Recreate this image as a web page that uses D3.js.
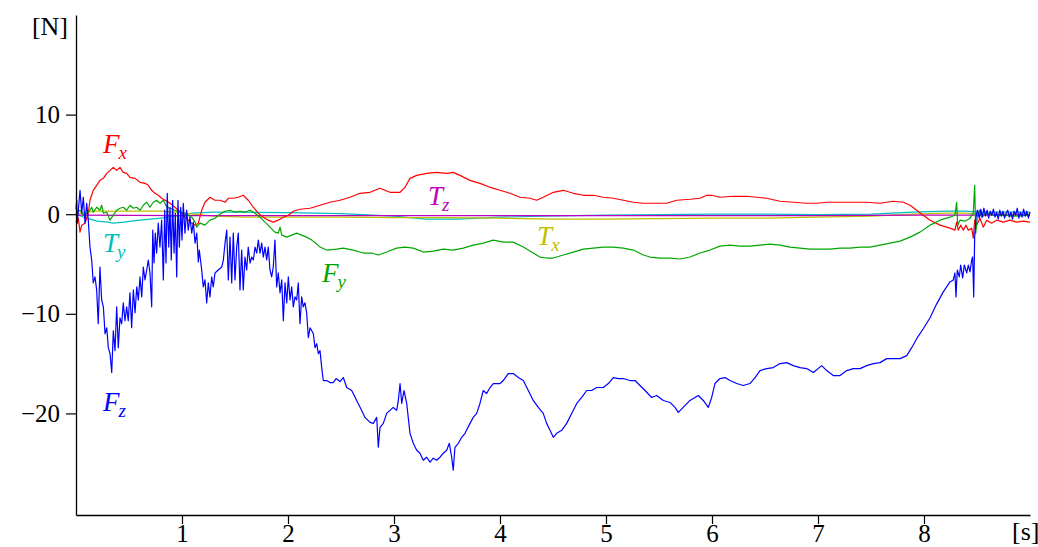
<!DOCTYPE html>
<meta charset="utf-8">
<script src="https://d3js.org/d3.v7.min.js"></script>
<style>
  body { margin: 0; background: white; }
  text { font-family: "Liberation Serif", "Times New Roman", "DejaVu Serif", serif; }
</style>
<div id="chart"></div>
<script>

  var svgWidth = 1038, svgHeight = 547;

  // time axis [s] and force axis [N]
  const xTicks = [1, 2, 3, 4, 5, 6, 7, 8];
  const yTicks = [-20, -10, 0, 10];

  // F_z: [t, value]
  const fz = [
    [0.0, 0.5], [0.007, 1.4], [0.012, -0.9], [0.038, 2.4], [0.054, 0.1], [0.069, 1.7], [0.085, -0.9],
    [0.101, 1.1], [0.116, -0.6], [0.132, -3.3], [0.148, -4.6], [0.163, -6.9], [0.179, -6.3],
    [0.195, -7.6], [0.210, -11.0], [0.226, -5.3], [0.242, -8.6], [0.258, -9.3], [0.274, -12.0],
    [0.290, -11.4], [0.305, -13.4], [0.321, -14.0], [0.337, -15.9], [0.352, -11.7], [0.368, -13.7],
    [0.384, -9.3], [0.399, -13.4], [0.415, -10.4], [0.431, -11.0], [0.446, -8.9], [0.462, -10.7],
    [0.478, -9.3], [0.493, -10.7], [0.509, -7.9], [0.525, -11.4], [0.541, -7.6], [0.557, -9.9],
    [0.573, -7.3], [0.588, -8.6], [0.604, -6.3], [0.620, -8.3], [0.635, -5.3], [0.651, -6.6],
    [0.667, -5.6], [0.682, -4.6], [0.698, -5.9], [0.714, -9.3], [0.724, -1.6], [0.736, -4.9],
    [0.748, -1.9], [0.761, -3.9], [0.776, -0.9], [0.792, -3.3], [0.808, -0.6], [0.824, -6.6],
    [0.837, 0.4], [0.849, -4.9], [0.861, 2.1], [0.875, -3.3], [0.887, 0.7], [0.899, -4.6],
    [0.912, 1.4], [0.925, -3.9], [0.937, 0.1], [0.950, -6.3], [0.962, 1.4], [0.975, -3.3],
    [0.988, 0.7], [1.000, -2.6], [1.012, 1.1], [1.028, -1.9], [1.044, 0.4], [1.059, -1.6],
    [1.075, -0.3], [1.092, -1.9], [1.107, -0.8], [1.123, -2.9], [1.139, -1.9], [1.154, -4.8],
    [1.163, -3.6], [1.186, -5.6], [1.201, -7.3], [1.217, -6.6], [1.233, -8.9], [1.248, -6.9],
    [1.264, -8.3], [1.280, -6.3], [1.295, -7.3], [1.311, -5.9], [1.342, -5.6], [1.375, -5.3],
    [1.390, -4.6], [1.406, -2.9], [1.422, -1.6], [1.437, -6.6], [1.453, -2.3], [1.469, -6.9],
    [1.484, -1.9], [1.500, -6.6], [1.516, -3.3], [1.531, -1.9], [1.547, -7.6], [1.563, -3.6],
    [1.578, -7.6], [1.594, -4.3], [1.610, -5.6], [1.625, -3.3], [1.642, -4.9], [1.658, -4.3],
    [1.673, -4.6], [1.689, -3.3], [1.705, -3.9], [1.720, -2.6], [1.736, -3.9], [1.752, -2.9],
    [1.767, -4.3], [1.783, -3.3], [1.799, -4.6], [1.814, -3.3], [1.830, -5.6], [1.846, -6.3],
    [1.861, -5.3], [1.877, -2.6], [1.893, -7.3], [1.908, -5.9], [1.925, -7.9], [1.941, -6.6],
    [1.956, -10.7], [1.972, -6.9], [1.988, -8.9], [2.003, -6.3], [2.019, -8.6], [2.035, -7.3],
    [2.050, -9.3], [2.066, -8.3], [2.082, -8.6], [2.097, -6.9], [2.113, -11.0], [2.129, -8.3],
    [2.144, -9.3], [2.160, -8.9], [2.176, -9.9], [2.192, -12.4], [2.208, -11.4], [2.224, -11.7],
    [2.239, -12.0], [2.255, -13.4], [2.271, -13.0], [2.286, -14.0], [2.302, -13.7], [2.318, -15.4],
    [2.333, -16.7], [2.365, -16.7], [2.396, -16.9], [2.427, -16.9], [2.453, -16.5], [2.491, -16.8],
    [2.522, -16.4], [2.554, -17.4], [2.601, -17.7], [2.648, -18.7], [2.695, -19.7], [2.726, -20.4],
    [2.774, -20.9], [2.805, -21.0], [2.837, -20.4], [2.852, -23.4], [2.868, -21.4], [2.899, -21.0],
    [2.931, -20.0], [2.962, -19.7], [2.993, -19.4], [3.025, -19.7], [3.041, -18.7], [3.057, -17.0],
    [3.073, -19.0], [3.094, -17.7], [3.120, -19.0], [3.151, -22.0], [3.182, -23.0], [3.214, -23.7],
    [3.245, -24.0], [3.276, -24.7], [3.308, -24.4], [3.340, -24.9], [3.371, -24.5], [3.403, -24.7],
    [3.434, -24.4], [3.465, -24.0], [3.497, -23.7], [3.522, -23.0], [3.544, -24.4], [3.559, -25.7],
    [3.575, -23.4], [3.607, -23.0], [3.639, -22.4], [3.670, -22.0], [3.717, -21.0], [3.748, -20.4],
    [3.780, -20.0], [3.811, -19.0], [3.842, -17.7], [3.874, -18.0], [3.906, -17.4], [3.937, -17.0],
    [4.000, -17.0], [4.031, -16.7], [4.078, -16.0], [4.125, -16.0], [4.173, -16.4], [4.220, -16.7],
    [4.267, -17.7], [4.314, -18.7], [4.361, -19.4], [4.408, -20.0], [4.440, -21.0], [4.472, -21.7],
    [4.503, -22.4], [4.535, -22.0], [4.582, -21.7], [4.629, -21.0], [4.676, -20.0], [4.724, -19.0],
    [4.771, -18.4], [4.818, -17.7], [4.865, -17.7], [4.912, -17.4], [4.975, -17.4], [5.022, -17.0],
    [5.069, -16.4], [5.116, -16.5], [5.163, -16.5], [5.226, -16.7], [5.274, -16.7], [5.321, -17.2],
    [5.368, -17.7], [5.431, -18.4], [5.478, -18.2], [5.541, -18.7], [5.604, -18.9], [5.651, -19.4],
    [5.682, -19.9], [5.729, -19.4], [5.792, -18.7], [5.840, -18.4], [5.871, -18.2], [5.918, -18.7],
    [5.965, -19.4], [5.997, -18.4], [6.028, -17.0], [6.075, -16.5], [6.123, -16.4], [6.170, -16.7],
    [6.233, -17.0], [6.295, -17.2], [6.358, -17.0], [6.406, -16.4], [6.453, -15.7], [6.516, -15.5],
    [6.578, -15.4], [6.642, -15.0], [6.705, -14.9], [6.767, -15.2], [6.830, -15.4], [6.893, -15.5],
    [6.956, -15.9], [7.035, -15.2], [7.082, -15.7], [7.144, -16.2], [7.208, -16.2], [7.271, -15.7],
    [7.333, -15.5], [7.396, -15.5], [7.459, -15.2], [7.522, -15.0], [7.585, -14.9], [7.648, -14.5],
    [7.710, -14.5], [7.774, -14.5], [7.837, -14.2], [7.884, -13.4], [7.931, -12.5], [7.993, -11.5],
    [8.057, -10.4], [8.120, -9.0], [8.182, -7.8], [8.245, -6.8], [8.276, -6.6], [8.292, -5.9],
    [8.302, -8.3], [8.314, -5.6], [8.333, -6.3], [8.346, -5.1], [8.365, -6.4], [8.380, -5.1],
    [8.403, -5.9], [8.418, -5.1], [8.434, -5.8], [8.450, -4.6], [8.459, -4.3], [8.469, -8.3],
    [8.478, -2.3], [8.491, -0.3], [8.503, 0.4], [8.522, -0.4], [8.535, 0.5], [8.550, -0.3],
    [8.565, 0.6], [8.580, -0.2], [8.595, 0.4], [8.610, -0.4], [8.625, 0.3], [8.640, -0.1],
    [8.655, 0.5], [8.670, -0.3], [8.685, 0.2], [8.700, -0.5], [8.715, 0.4], [8.730, -0.2],
    [8.745, 0.3], [8.760, -0.4], [8.775, 0.1], [8.790, 0.4], [8.805, -0.3], [8.820, 0.2],
    [8.835, -0.5], [8.850, 0.3], [8.865, -0.1], [8.880, 0.6], [8.895, -0.4], [8.910, 0.2],
    [8.925, -0.3], [8.940, 0.5], [8.955, -0.2], [8.970, 0.3], [8.985, -0.4], [9.000, 0.2]
  ];

  const fx = [
    [0.0, -0.8], [0.022, -0.4], [0.038, -1.8], [0.054, -1.1], [0.085, -0.9], [0.116, 0.1],
    [0.132, 1.4], [0.163, 2.4], [0.195, 2.9], [0.226, 3.4], [0.258, 3.6], [0.290, 4.1],
    [0.321, 4.4], [0.352, 4.7], [0.384, 4.4], [0.415, 4.7], [0.446, 4.2], [0.478, 4.1],
    [0.509, 3.7], [0.557, 3.6], [0.604, 3.2], [0.651, 3.1], [0.682, 2.9], [0.714, 2.4],
    [0.745, 2.1], [0.776, 1.9], [0.808, 1.6], [0.840, 1.4], [0.887, 1.1], [0.934, 0.7],
    [0.965, 0.4], [0.997, 0.1], [1.028, -0.3], [1.059, -0.6], [1.092, -0.9], [1.123, -1.1],
    [1.154, -0.9], [1.186, 0.4], [1.217, 1.2], [1.264, 1.7], [1.311, 1.4], [1.358, 1.4],
    [1.406, 1.2], [1.437, 1.6], [1.484, 1.6], [1.531, 1.7], [1.578, 1.9], [1.625, 1.4],
    [1.673, 0.7], [1.720, 0.1], [1.767, -0.3], [1.814, -0.6], [1.861, -0.8], [1.908, -0.6],
    [1.956, -0.3], [2.003, -0.1], [2.050, 0.3], [2.113, 0.5], [2.208, 0.6], [2.302, 0.9],
    [2.396, 1.2], [2.491, 1.4], [2.585, 1.7], [2.679, 2.1], [2.774, 2.2], [2.868, 2.6],
    [2.962, 2.2], [3.057, 2.2], [3.104, 2.7], [3.151, 3.6], [3.214, 3.9], [3.308, 4.1],
    [3.403, 4.2], [3.497, 4.1], [3.559, 4.2], [3.623, 3.9], [3.717, 3.4], [3.811, 3.1],
    [3.906, 2.7], [4.000, 2.4], [4.094, 2.1], [4.189, 1.7], [4.283, 1.6], [4.346, 1.4],
    [4.408, 1.7], [4.503, 2.2], [4.597, 2.4], [4.692, 2.1], [4.786, 1.9], [4.880, 1.9],
    [4.975, 1.7], [5.069, 1.6], [5.163, 1.4], [5.258, 1.2], [5.352, 1.1], [5.478, 1.1],
    [5.573, 1.1], [5.667, 1.4], [5.792, 1.5], [5.887, 1.6], [5.950, 1.9], [5.997, 1.9],
    [6.075, 1.7], [6.201, 1.8], [6.327, 1.8], [6.422, 1.7], [6.516, 1.6], [6.642, 1.3],
    [6.767, 1.2], [6.893, 1.1], [6.988, 1.1], [7.082, 1.2], [7.208, 1.2], [7.333, 1.2],
    [7.459, 1.2], [7.585, 1.1], [7.710, 1.3], [7.805, 1.2], [7.868, 0.9], [7.931, 0.4],
    [7.993, -0.1], [8.057, -0.6], [8.151, -1.1], [8.245, -1.4], [8.292, -1.6], [8.308, -0.8],
    [8.323, -1.6], [8.346, -1.1], [8.371, -1.6], [8.396, -1.1], [8.418, -1.6], [8.450, -1.4],
    [8.465, -2.4], [8.478, -0.6], [8.497, -1.1], [8.528, -0.4], [8.559, -1.3], [8.591, -0.6],
    [8.638, -0.9], [8.686, -0.6], [8.748, -0.8], [8.811, -0.6], [8.875, -0.8], [8.937, -0.7],
    [9.000, -0.8]
  ];

  const fy = [
    [0.0, 0.1], [0.038, 0.4], [0.069, -0.1], [0.101, 0.1], [0.132, 0.4], [0.148, 0.7],
    [0.163, 0.2], [0.195, 0.7], [0.226, 0.4], [0.242, 0.9], [0.258, 0.1], [0.290, 0.2],
    [0.321, -0.6], [0.352, -0.1], [0.384, 0.4], [0.415, 0.6], [0.446, 0.7], [0.478, 0.4],
    [0.509, 0.9], [0.541, 0.6], [0.573, 0.7], [0.604, 0.4], [0.635, 0.9], [0.667, 1.2],
    [0.698, 0.7], [0.729, 1.2], [0.761, 1.4], [0.792, 1.1], [0.824, 1.4], [0.856, 0.7],
    [0.887, 0.6], [0.934, 0.4], [0.981, 0.2], [1.028, 0.1], [1.092, -0.3], [1.123, -0.8],
    [1.139, -1.3], [1.170, -0.9], [1.217, -1.1], [1.264, -0.6], [1.311, -0.4], [1.358, 0.0],
    [1.406, 0.3], [1.453, 0.4], [1.500, 0.2], [1.547, 0.3], [1.594, 0.2], [1.642, 0.4],
    [1.689, 0.1], [1.736, -0.3], [1.783, -0.8], [1.830, -1.3], [1.877, -1.8], [1.908, -1.9],
    [1.925, -1.3], [1.941, -2.1], [1.988, -2.3], [2.035, -2.1], [2.082, -1.9], [2.129, -2.1],
    [2.176, -2.3], [2.224, -2.6], [2.271, -3.0], [2.302, -3.3], [2.365, -3.6], [2.459, -3.5],
    [2.522, -3.4], [2.616, -3.6], [2.710, -3.9], [2.790, -3.9], [2.852, -4.1], [2.931, -3.8],
    [3.025, -3.4], [3.104, -3.3], [3.182, -3.4], [3.276, -3.8], [3.371, -3.7], [3.465, -3.5],
    [3.559, -3.6], [3.654, -3.4], [3.748, -3.1], [3.842, -2.9], [3.937, -2.6], [4.031, -2.8],
    [4.125, -2.8], [4.220, -3.3], [4.314, -3.9], [4.377, -4.3], [4.440, -4.4], [4.503, -4.4],
    [4.597, -4.1], [4.692, -3.8], [4.786, -3.5], [4.880, -3.4], [4.975, -3.3], [5.069, -3.3],
    [5.163, -3.4], [5.258, -3.6], [5.352, -4.1], [5.415, -4.3], [5.509, -4.4], [5.604, -4.4],
    [5.698, -4.5], [5.792, -4.3], [5.887, -3.9], [5.981, -3.6], [6.075, -3.2], [6.170, -3.1],
    [6.264, -3.2], [6.358, -3.2], [6.453, -3.1], [6.547, -3.0], [6.642, -3.1], [6.736, -3.3],
    [6.830, -3.4], [6.925, -3.5], [7.019, -3.5], [7.113, -3.5], [7.208, -3.4], [7.302, -3.4],
    [7.396, -3.3], [7.491, -3.3], [7.585, -3.1], [7.679, -2.9], [7.774, -2.7], [7.868, -2.3],
    [7.962, -1.8], [8.057, -1.1], [8.151, -0.6], [8.245, -0.3], [8.292, -0.1], [8.308, 1.2],
    [8.318, -1.1], [8.340, -0.6], [8.387, -0.7], [8.434, -0.4], [8.465, 0.1], [8.478, 2.9],
    [8.488, -1.9], [8.503, -0.3], [8.522, 0.4], [8.544, -0.3], [8.591, 0.1], [8.654, -0.1],
    [8.748, -0.1], [8.842, -0.2], [9.000, -0.1]
  ];

  const tx = [
    [0.0, 0.0], [0.1, 0.2], [0.2, 0.3], [0.5, 0.3], [0.8, 0.3], [0.95, 0.2], [1.1, 0.0],
    [1.3, -0.2], [1.6, -0.3], [2.0, -0.3], [2.5, -0.3], [3.0, -0.35], [3.5, -0.35], [4.0, -0.4],
    [4.5, -0.5], [5.0, -0.5], [5.5, -0.45], [6.0, -0.4], [6.5, -0.4], [7.0, -0.3], [7.5, -0.2],
    [7.9, 0.0], [8.2, 0.1], [8.4, 0.1], [8.5, 0.0], [9.0, 0.0]
  ];

  const ty = [
    [0.0, 0.0], [0.1, -0.4], [0.2, -0.7], [0.3, -0.8], [0.35, -0.9], [0.45, -0.8], [0.6, -0.6],
    [0.8, -0.4], [1.0, -0.1], [1.1, 0.1], [1.3, 0.2], [1.6, 0.2], [2.0, 0.15], [2.5, 0.05],
    [3.0, -0.2], [3.3, -0.5], [3.6, -0.5], [4.0, -0.3], [4.4, -0.2], [5.0, -0.1], [5.5, -0.05],
    [6.0, 0.0], [6.5, 0.0], [7.0, -0.05], [7.5, 0.0], [7.9, 0.2], [8.2, 0.3], [8.4, 0.3],
    [8.5, 0.2], [8.8, 0.2], [9.0, 0.2]
  ];

  const tz = [
    [0.0, -0.1], [1.0, -0.15], [2.0, -0.15], [3.0, -0.15], [4.0, -0.15], [5.0, -0.15],
    [6.0, -0.15], [7.0, -0.15], [8.0, -0.1], [8.5, -0.1], [9.0, -0.05]
  ];

  // drawing order: torques first, forces on top
  const series = [
    { name: "T", sub: "y", color: "#00bfbf", values: ty, lab: [0.255, -3.8] },
    { name: "T", sub: "x", color: "#bfbf00", values: tx, lab: [4.35, -3.1] },
    { name: "T", sub: "z", color: "#bf00bf", values: tz, lab: [3.32, 0.9] },
    { name: "F", sub: "x", color: "#ff0000", values: fx, lab: [0.255, 6.1] },
    { name: "F", sub: "y", color: "#00a600", values: fy, lab: [2.32, -6.8] },
    { name: "F", sub: "z", color: "#0000ff", values: fz, lab: [0.255, -19.8] }
  ];

  const x = d3.scaleLinear().domain([0, 9]).range([76, 1030]);
  const y = d3.scaleLinear().domain([-30.2, 20]).range([515, 15]);

  const svg = d3.select("#chart")
    .append("svg")
    .attr("width", svgWidth)
    .attr("height", svgHeight);

  const line = d3.line()
    .x(d => x(d[0]))
    .y(d => y(d[1]));

  svg.append("g")
    .selectAll("path")
    .data(series)
    .join("path")
    .attr("d", d => line(d.values))
    .attr("fill", "none")
    .attr("stroke", d => d.color)
    .attr("stroke-width", 1.2)
    .attr("stroke-linejoin", "round");

  // axes
  const yAxis = svg.append("g")
    .attr("transform", `translate(${x(0)},0)`)
    .call(d3.axisLeft(y).tickValues(yTicks).tickSize(10).tickSizeOuter(0).tickPadding(6));

  const xAxis = svg.append("g")
    .attr("transform", `translate(0,${y(-30.2)})`)
    .call(d3.axisBottom(x).tickValues(xTicks).tickSize(9).tickSizeOuter(0).tickPadding(0));

  [xAxis, yAxis].forEach(function (a) {
    a.attr("font-family", null);
    a.select(".domain").attr("stroke", "#000").attr("stroke-width", 1.3);
    a.selectAll(".tick line").attr("stroke", "#000").attr("stroke-width", 1.2);
    a.selectAll(".tick text")
      .attr("fill", "#000")
      .style("font-size", "25px");
  });

  // units
  svg.append("text")
    .attr("x", x(0) - 8).attr("y", 35)
    .attr("text-anchor", "end")
    .style("font-size", "26px")
    .text("[N]");

  svg.append("text")
    .attr("x", x(9) - 18).attr("y", 540)
    .style("font-size", "26px")
    .text("[s]");

  // series labels
  var labels = svg.append("g")
    .selectAll("text")
    .data(series)
    .join("text")
    .attr("x", d => x(d.lab[0]))
    .attr("y", d => y(d.lab[1]))
    .attr("fill", d => d.color)
    .style("font-style", "italic")
    .style("font-size", "27px");

  labels.append("tspan").text(d => d.name);
  labels.append("tspan")
    .attr("dy", 6)
    .attr("dx", -1)
    .style("font-size", "19px")
    .text(d => d.sub);

</script>
